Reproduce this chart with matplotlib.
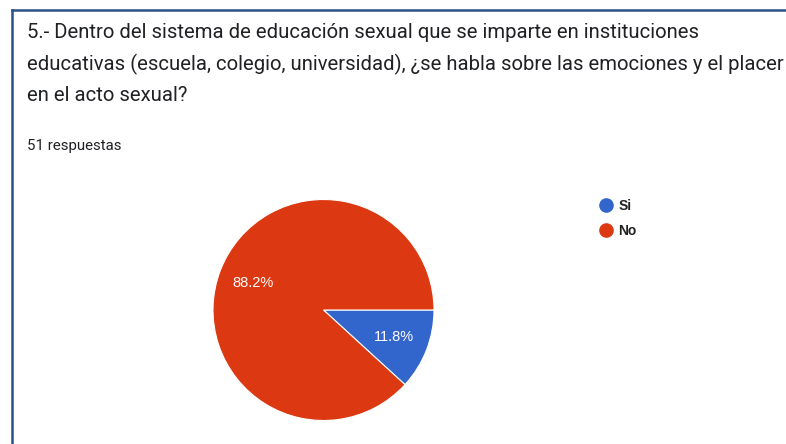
import matplotlib.pyplot as plt
from matplotlib.lines import Line2D

# data
labels = ["Si", "No"]
values = [11.8, 88.2]
colors = ["#3366cc", "#dc3912"]

title = ("5.- Dentro del sistema de educación sexual que se imparte en instituciones\n"
         "educativas (escuela, colegio, universidad), ¿se habla sobre las emociones y el placer\n"
         "en el acto sexual?")
subtitle = "51 respuestas"

W, H = 786, 444
plt.rcParams['font.family'] = ['Roboto', 'DejaVu Sans']
fig = plt.figure(figsize=(W / 100, H / 100), dpi=100)

# card border (left + top)
border = "#2a5189"
fig.add_artist(Line2D([11.5 / W, 11.5 / W], [0, 1 - 10 / H], color=border, lw=1.8,
                      transform=fig.transFigure))
fig.add_artist(Line2D([11.5 / W, 1], [1 - 10 / H, 1 - 10 / H], color=border, lw=1.8,
                      transform=fig.transFigure))

fig.text(27 / W, 1 - 64 / H, title, ha="left", va="center", fontsize=14.6,
         color="#202124", linespacing=1.72)
fig.text(27 / W, 1 - 146 / H, subtitle, ha="left", va="center", fontsize=10.8,
         color="#202124")

# pie
cx, cy, r = 323.5, 310, 110.5
ax = fig.add_axes([(cx - r) / W, (H - cy - r) / H, 2 * r / W, 2 * r / H])
wedges, _, autotexts = ax.pie(values, colors=colors, startangle=0, counterclock=False,
                              autopct="%1.1f%%", pctdistance=0.68,
                              wedgeprops=dict(edgecolor="white", linewidth=0.8),
                              textprops=dict(color="white", fontsize=10.5,
                                             family="Liberation Sans"))
ax.set_xlim(-1, 1)
ax.set_ylim(-1, 1)
ax.set_axis_off()

handles = [Line2D([], [], marker="o", ls="", color=c, markersize=9.5) for c in colors]
leg = fig.legend(handles, labels, loc="upper left",
                 bbox_to_anchor=(583 / W, 1 - 186 / H), frameon=False,
                 handletextpad=0.15, labelspacing=0.8,
                 handlelength=1.5, prop=dict(family="Liberation Sans", weight="bold",
                                             size=10))
for t in leg.get_texts():
    t.set_color("#222222")

fig.savefig("out.png", dpi=100)
